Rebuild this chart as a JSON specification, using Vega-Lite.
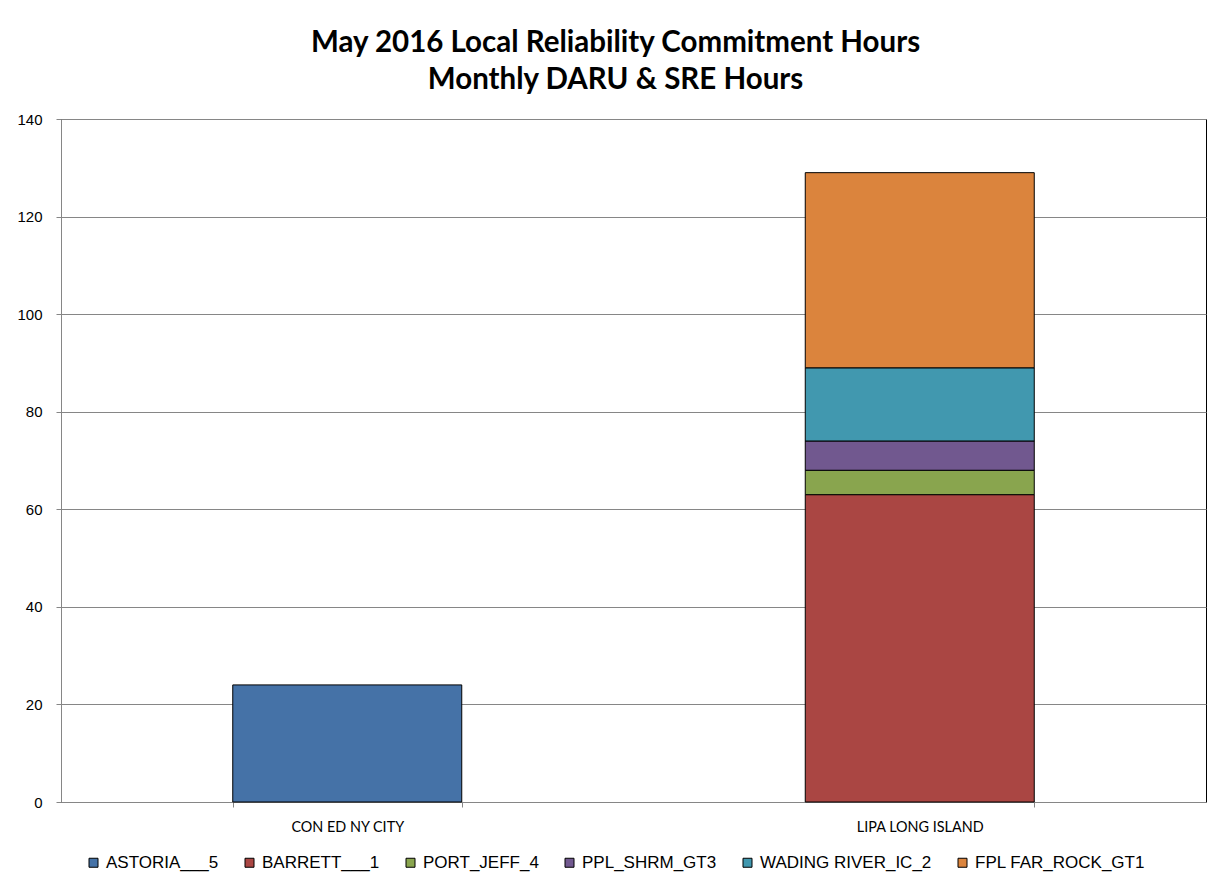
{
  "$schema": "https://vega.github.io/schema/vega-lite/v6.json",
  "width": 1145,
  "height": 683,
  "autosize": {"type": "none"},
  "padding": {"left": 61, "top": 119, "right": 17, "bottom": 84},
  "background": "white",
  "title": {
    "text": ["May 2016 Local Reliability Commitment Hours", "Monthly DARU & SRE Hours"],
    "font": "Lato",
    "fontSize": 29.5,
    "fontWeight": "bold",
    "color": "#000000",
    "anchor": "middle",
    "dx": -18,
    "lineHeight": 37,
    "offset": 17
  },
  "data": {
    "values": [
      {"zone": "CON ED NY CITY", "unit": "ASTORIA___5", "hours": 24, "ord": 0},
      {"zone": "LIPA LONG ISLAND", "unit": "BARRETT___1", "hours": 63, "ord": 1},
      {"zone": "LIPA LONG ISLAND", "unit": "PORT_JEFF_4", "hours": 5, "ord": 2},
      {"zone": "LIPA LONG ISLAND", "unit": "PPL_SHRM_GT3", "hours": 6, "ord": 3},
      {"zone": "LIPA LONG ISLAND", "unit": "WADING RIVER_IC_2", "hours": 15, "ord": 4},
      {"zone": "LIPA LONG ISLAND", "unit": "FPL FAR_ROCK_GT1", "hours": 40, "ord": 5}
    ]
  },
  "mark": {"type": "bar", "stroke": "#000000", "strokeWidth": 1},
  "encoding": {
    "x": {
      "field": "zone",
      "type": "nominal",
      "sort": ["CON ED NY CITY", "LIPA LONG ISLAND"],
      "scale": {"paddingInner": 0.6, "paddingOuter": 0.3},
      "axis": {
        "title": null,
        "labelAngle": 0,
        "labelFont": "Lato",
        "labelFontSize": 14.4,
        "labelColor": "#000000",
        "labelPadding": 13,
        "tickBand": "extent",
        "tickSize": 5,
        "tickColor": "#868686",
        "domainColor": "#868686"
      }
    },
    "y": {
      "field": "hours",
      "type": "quantitative",
      "stack": "zero",
      "scale": {"domain": [0, 140], "nice": false},
      "axis": {
        "title": null,
        "values": [0, 20, 40, 60, 80, 100, 120, 140],
        "labelFont": "Liberation Sans",
        "labelFontSize": 15,
        "labelColor": "#000000",
        "labelPadding": 14,
        "tickSize": 5,
        "tickColor": "#868686",
        "domainColor": "#868686",
        "grid": true,
        "gridColor": "#868686",
        "gridWidth": 1
      }
    },
    "color": {
      "field": "unit",
      "type": "nominal",
      "sort": ["ASTORIA___5", "BARRETT___1", "PORT_JEFF_4", "PPL_SHRM_GT3", "WADING RIVER_IC_2", "FPL FAR_ROCK_GT1"],
      "scale": {
        "domain": ["ASTORIA___5", "BARRETT___1", "PORT_JEFF_4", "PPL_SHRM_GT3", "WADING RIVER_IC_2", "FPL FAR_ROCK_GT1"],
        "range": ["#4572A7", "#AA4643", "#89A54E", "#71588F", "#4198AF", "#DB843D"]
      },
      "legend": {
        "title": null,
        "orient": "none",
        "direction": "horizontal",
        "legendX": 24,
        "legendY": 735,
        "symbolType": "square",
        "symbolSize": 81,
        "symbolStrokeColor": "#000000",
        "symbolStrokeWidth": 1,
        "symbolOpacity": 1,
        "labelFont": "Liberation Sans",
        "labelFontSize": 17,
        "labelLimit": 0,
        "labelColor": "#000000",
        "labelOffset": 4,
        "columnPadding": 22
      }
    },
    "order": {"field": "ord", "type": "quantitative"}
  },
  "config": {
    "view": {"stroke": "#000000", "strokeWidth": 1}
  }
}
